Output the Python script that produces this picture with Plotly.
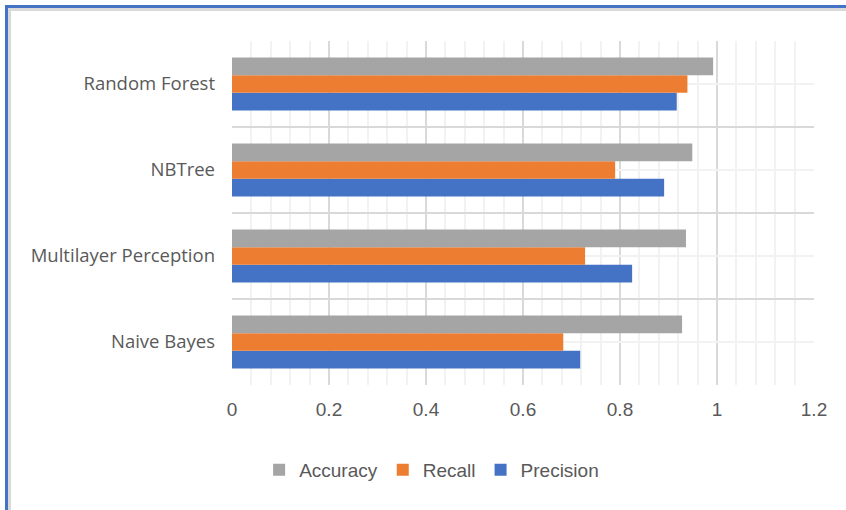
import plotly.graph_objects as go

categories = ["Naive Bayes", "Multilayer Perception", "NBTree", "Random Forest"]
precision = [0.718, 0.825, 0.891, 0.917]
recall = [0.683, 0.728, 0.790, 0.939]
accuracy = [0.928, 0.936, 0.949, 0.992]
x_ticks = [0, 0.2, 0.4, 0.6, 0.8, 1, 1.2]
x_tick_text = ["0", "0.2", "0.4", "0.6", "0.8", "1", "1.2"]

W, H = 846, 510
L, R, T, B = 232, 32, 41, 125
pos = list(range(len(categories)))
bounds = [p - 0.5 for p in pos] + [pos[-1] + 0.5]

fig = go.Figure()
fig.add_trace(go.Bar(y=pos, x=precision, name="Precision", orientation="h",
                     marker=dict(color="#4472C4", line=dict(width=0))))
fig.add_trace(go.Bar(y=pos, x=recall, name="Recall", orientation="h",
                     marker=dict(color="#ED7D31", line=dict(width=0))))
fig.add_trace(go.Bar(y=pos, x=accuracy, name="Accuracy", orientation="h",
                     marker=dict(color="#A5A5A5", line=dict(width=0))))

pw, ph = W - L - R, H - T - B
def px_x(p):
    return (p - L) / pw
def px_y(p):
    return 1 - (p - T) / ph

shapes = [
    dict(type="rect", xref="paper", yref="paper", x0=px_x(8), x1=px_x(11), y0=px_y(H + 5), y1=px_y(8),
         fillcolor="#D9D9D9", line=dict(width=0), layer="below"),
    dict(type="rect", xref="paper", yref="paper", x0=px_x(8), x1=px_x(W + 5), y0=px_y(11), y1=px_y(8),
         fillcolor="#D9D9D9", line=dict(width=0), layer="below"),
    dict(type="rect", xref="paper", yref="paper", x0=px_x(5), x1=px_x(8), y0=px_y(H + 5), y1=px_y(5),
         fillcolor="#4472C4", line=dict(width=0), layer="below"),
    dict(type="rect", xref="paper", yref="paper", x0=px_x(5), x1=px_x(W + 5), y0=px_y(8), y1=px_y(5),
         fillcolor="#4472C4", line=dict(width=0), layer="below"),
]

fig.update_layout(
    width=W, height=H,
    margin=dict(l=L, r=R, t=T, b=B),
    paper_bgcolor="white", plot_bgcolor="white",
    barmode="group", bargap=0.384, bargroupgap=0,
    shapes=shapes,
    legend=dict(orientation="h", traceorder="reversed", x=0.343, xanchor="center",
                y=px_y(470), yanchor="middle",
                font=dict(family="Liberation Sans, Arial, sans-serif", size=19, color="#595959"),
                itemwidth=30, itemsizing="constant"),
    xaxis=dict(range=[0, 1.2], tickvals=x_ticks, ticktext=x_tick_text,
               showgrid=True, gridcolor="#D9D9D9", gridwidth=2,
               zeroline=False, showline=False, ticks="",
               ticklabelstandoff=11,
               minor=dict(dtick=0.04, showgrid=True, gridcolor="#F2F2F2", gridwidth=2, ticks=""),
               tickfont=dict(family="Liberation Sans, Arial, sans-serif", size=19, color="#595959")),
    yaxis=dict(range=[bounds[0], bounds[-1]], tickvals=pos, ticktext=categories,
               showgrid=True, gridcolor="#F2F2F2", gridwidth=2,
               zeroline=False, showline=False, ticks="",
               ticklabelstandoff=16,
               minor=dict(tickvals=bounds, showgrid=True, gridcolor="#D9D9D9", gridwidth=2, ticks=""),
               tickfont=dict(family="Open Sans, sans-serif", size=18.5, color="#595959")),
)

fig.write_html("out.html")
